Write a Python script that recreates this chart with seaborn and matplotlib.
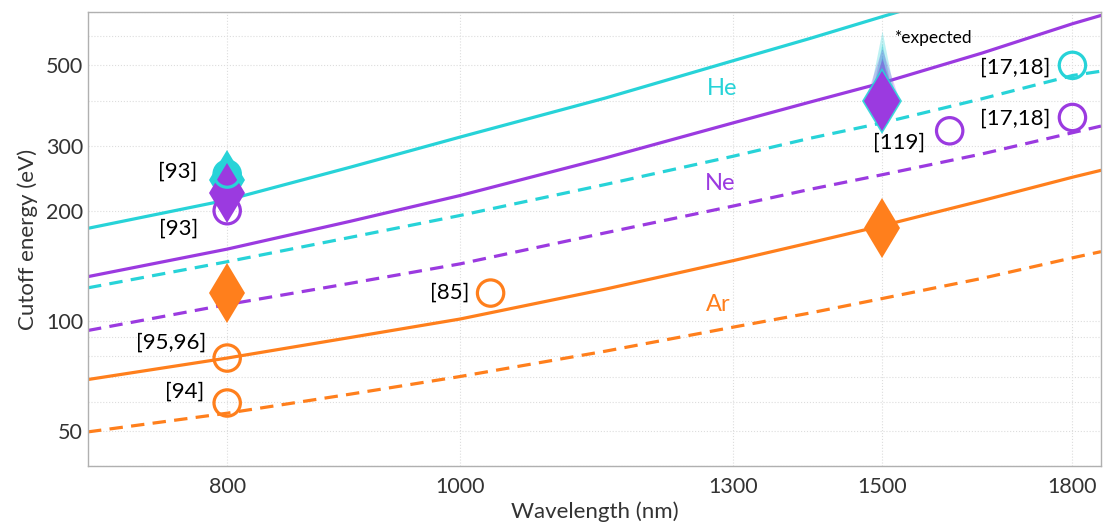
import numpy as np
import pandas as pd
import matplotlib
matplotlib.use("Agg")
import matplotlib.pyplot as plt
import seaborn as sns
from matplotlib.ticker import FixedLocator, NullFormatter, FixedFormatter

# ---------------- data ----------------
wl = [700, 800, 900, 1000, 1150, 1300, 1400, 1500, 1650, 1800, 1850]
he_solid = [179, 214, 263, 318, 407, 515, 593, 680, 820, 960, 1000]
he_dash = [123, 145, 169, 194, 236, 282, 316, 348, 405, 469, 482]
ne_solid = [132, 157, 187, 220, 279, 348, 397, 448, 540, 650, 685]
ne_dash = [94, 110.7, 126.5, 143, 174, 206, 229, 251, 286, 327, 341]
ar_solid = [69, 79, 89.9, 101, 122, 146, 163.5, 182, 213, 247, 258]
ar_dash = [49.6, 55.8, 62.9, 70.3, 82.5, 96, 105, 115, 130.5, 148.6, 154.5]

# experimental points (open circles)
circ_wl = [800, 800, 800, 800, 1030, 1600, 1800, 1800]
circ_e = [252, 200, 79, 59.5, 119, 331, 500, 360]
circ_gas = ["He", "Ne", "Ar", "Ar", "Ar", "Ne", "He", "Ne"]
circ_ref = ["[93]", "[93]", "[95,96]", "[94]", "[85]", "[119]", "[17,18]", "[17,18]"]

# filled diamonds
dia_wl = [800, 800, 800, 1500, 1500]
dia_e = [243, 224, 119, 400, 179]
dia_gas = ["He", "Ne", "Ar", "Ne", "Ar"]

# expected (gradient spike) at 1500 nm
exp_wl = [1500]
exp_e = [400]

x_ticks = [800, 1000, 1300, 1500, 1800]
y_ticks = [50, 100, 200, 300, 500]
y_minor = [40, 60, 70, 80, 90, 400, 600, 700]
x_minor = [900]

colors = {"He": "#27d3d8", "Ne": "#9b3ae0", "Ar": "#ff7f1c"}

# ---------------- figure ----------------
sns.set_theme(style="white")
plt.rcParams["font.family"] = ["Lato", "DejaVu Sans"]

fig = plt.figure(figsize=(11.03, 5.25), dpi=100)
ax = fig.add_axes([88 / 1103, 1 - 466 / 525, (1101 - 88) / 1103, (466 - 12) / 525])

n = len(wl)
lines = pd.DataFrame({
    "wl": wl * 6,
    "E": he_solid + he_dash + ne_solid + ne_dash + ar_solid + ar_dash,
    "gas": ["He"] * (2 * n) + ["Ne"] * (2 * n) + ["Ar"] * (2 * n),
    "kind": (["solid"] * n + ["dash"] * n) * 3,
})
for (gas, kind), sub in lines.groupby(["gas", "kind"]):
    sns.lineplot(data=sub, x="wl", y="E", ax=ax, color=colors[gas], lw=2.3,
                 linestyle="-" if kind == "solid" else (0, (4.2, 2.6)),
                 legend=False, zorder=2, sort=False)

ax.set_xscale("log")
ax.set_yscale("log")
ax.set_xlim(700, 1850)
ax.set_ylim(40, 700)

# expected spike at 1500 nm (gradient imitated with stacked translucent layers)
spike = [(-0.2, 0.0), (0.0, 1.0), (0.2, 0.0), (0.0, -0.34), (-0.2, 0.0)]
spike2 = [(-0.2, 0.0), (0.0, 0.6), (0.2, 0.0), (0.0, -0.34), (-0.2, 0.0)]
for a, sc in [(0.30, 1.0), (0.40, 0.82), (0.55, 0.65)]:
    ax.plot(exp_wl, exp_e, linestyle="none", marker=spike, markersize=101 * sc,
            color=colors["He"], alpha=a, markeredgewidth=0, zorder=4)
for a, sc in [(0.25, 1.0), (0.45, 0.8)]:
    ax.plot(exp_wl, exp_e, linestyle="none", marker=spike2, markersize=76 * sc,
            color=colors["Ne"], alpha=a, markeredgewidth=0, zorder=4)
ax.plot(exp_wl, exp_e, linestyle="none", marker="d", markersize=34,
        color=colors["He"], alpha=0.9, markeredgewidth=0, zorder=4)

# diamonds
for w, e, g in zip(dia_wl, dia_e, dia_gas):
    ax.plot([w], [e], linestyle="none", marker="d", markersize=31,
            color=colors[g], markeredgewidth=0, zorder=5)

# circles
circ = pd.DataFrame({"wl": circ_wl, "E": circ_e, "gas": circ_gas, "ref": circ_ref})
for gas, sub in circ.groupby("gas"):
    sns.scatterplot(data=sub, x="wl", y="E", ax=ax, marker="o", s=360,
                    facecolor="none", edgecolor=colors[gas], linewidth=2.3,
                    zorder=6, legend=False)

# reference labels
offsets = {0: (-30, 2), 1: (-29, -18), 2: (-21, 15), 3: (-23, 11), 4: (-21, 0),
           5: (-25, -12), 6: (-22, -2), 7: (-22, -1)}
for i, row in circ.iterrows():
    dx, dy = offsets[i]
    ax.annotate(row.ref, xy=(row.wl, row.E), xytext=(dx, dy),
                textcoords="offset pixels", ha="right", va="center",
                fontsize=16, color="black", zorder=7)

# gas labels
ax.text(1286, 433, "He", color=colors["He"], fontsize=17, ha="center", va="center")
ax.text(1284, 237, "Ne", color=colors["Ne"], fontsize=17, ha="center", va="center")
ax.text(1282, 110.6, "Ar", color=colors["Ar"], fontsize=17, ha="center", va="center")
ax.annotate("*expected", xy=(1500, 400), xytext=(13, 63),
            textcoords="offset pixels", ha="left", va="center",
            fontsize=12.5, color="black", zorder=7)

# ticks / grid
ax.xaxis.set_major_locator(FixedLocator(x_ticks))
ax.xaxis.set_major_formatter(FixedFormatter([str(v) for v in x_ticks]))
ax.xaxis.set_minor_locator(FixedLocator(x_minor))
ax.xaxis.set_minor_formatter(NullFormatter())
ax.yaxis.set_major_locator(FixedLocator(y_ticks))
ax.yaxis.set_major_formatter(FixedFormatter([str(v) for v in y_ticks]))
ax.yaxis.set_minor_locator(FixedLocator(y_minor))
ax.yaxis.set_minor_formatter(NullFormatter())

ax.tick_params(axis="both", which="both", direction="in", color="#555555",
               labelsize=15.5, labelcolor="#333333")
ax.tick_params(axis="both", which="major", length=8, width=1)
ax.tick_params(axis="both", which="minor", length=5, width=1)
ax.tick_params(axis="x", pad=8)
ax.grid(True, which="major", color="#dddddd", lw=0.8, linestyle=":")
ax.grid(True, which="minor", axis="y", color="#dddddd", lw=0.8, linestyle=":")
for s in ax.spines.values():
    s.set_color("#b0b0b0")
    s.set_linewidth(1.0)

ax.set_xlabel("Wavelength (nm)", fontsize=16, color="#333333", labelpad=3)
ax.set_ylabel("Cutoff energy (eV)", fontsize=16, color="#333333", labelpad=6)

fig.savefig("out.png", dpi=100)
